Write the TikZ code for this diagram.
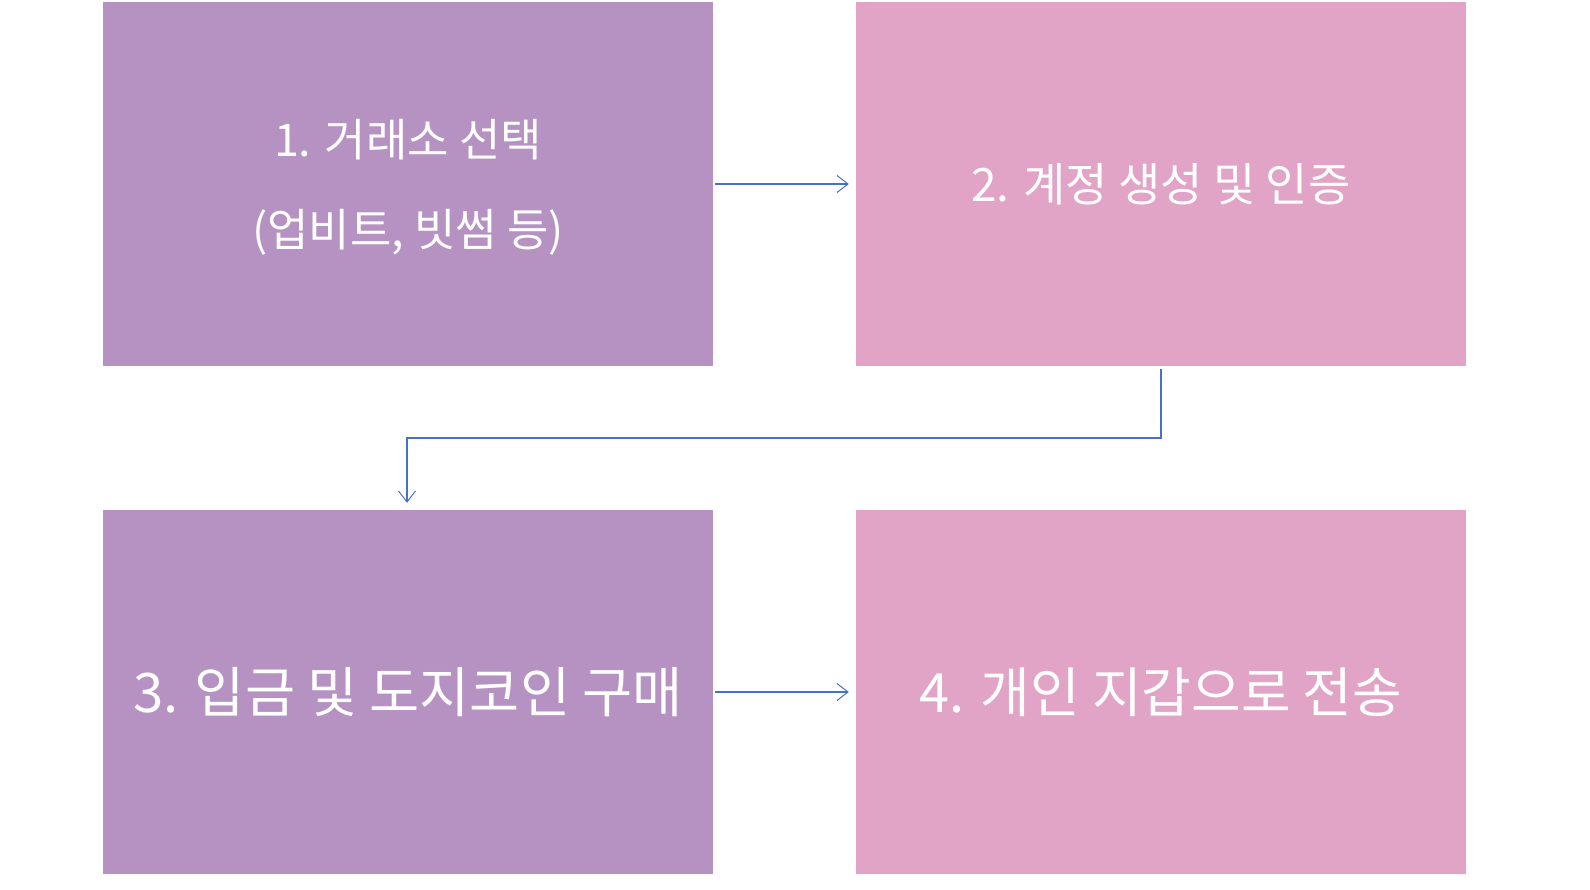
\documentclass[tikz,border=0pt]{standalone}
\usepackage{fontspec}
\setmainfont{Noto Sans CJK KR}
\usetikzlibrary{arrows.meta}
\definecolor{boxpurple}{HTML}{B692C2}
\definecolor{boxpink}{HTML}{E1A4C6}
\definecolor{arrowblue}{HTML}{4472C4}
\tikzset{
  stepbox/.style={draw=none, minimum width=610pt, minimum height=364pt, inner sep=0pt, text=white, align=center},
  flow/.style={draw=arrowblue, line width=1.1pt, -{Straight Barb[length=11pt,width=17pt,line width=1pt]}, shorten >=7pt, shorten <=2pt}
}
\begin{document}
\begin{tikzpicture}[x=1pt,y=-1pt]
\useasboundingbox (0,0) rectangle (1590,889);
\node[stepbox, fill=boxpurple, minimum height=364pt] (b1) at (408,184) {};
\node[text=white, align=center, inner sep=0pt, font=\fontsize{45}{90}\selectfont] (t1) at (408,187) {1. 거래소 선택\\(업비트, 빗썸 등)};
\node[stepbox, fill=boxpink, font=\fontsize{46}{52}\selectfont] (b2) at (1161,184) {2. 계정 생성 및 인증};
\node[stepbox, fill=boxpurple, font=\fontsize{54.5}{60}\selectfont] (b3) at (408,692) {3. 입금 및 도지코인 구매};
\node[stepbox, fill=boxpink, font=\fontsize{54}{60}\selectfont] (b4) at (1161,692) {4. 개인 지갑으로 전송};
\coordinate (k1) at (1161,438);
\coordinate (k2) at (407,438);
\draw[flow] (b1.east) -- (b2.west);
\draw[flow, shorten <=3pt] (b2.south) -- (k1) -- (k2) -- (k2 |- b3.north);
\draw[flow] (b3.east) -- (b4.west);
\end{tikzpicture}
\end{document}
